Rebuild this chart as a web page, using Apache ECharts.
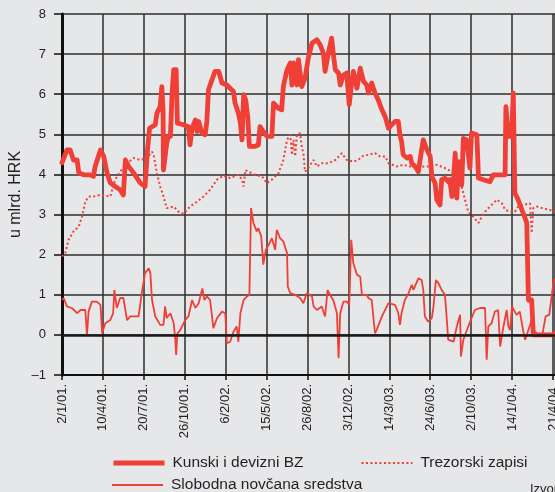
<!DOCTYPE html>
<html>
<head>
<meta charset="utf-8">
<script src="https://cdn.jsdelivr.net/npm/echarts@6/dist/echarts.min.js"></script>
<style>
html,body{margin:0;padding:0;background:#e6e7e9;}
#c{width:555px;height:492px;}
</style>
</head>
<body>
<div id="c"></div>
<script>
// x positions are in units of tick-label intervals (0 = 2/1/01., 12 = 21/4/04.)
var dateLabels = ['2/1/01.','10/4/01.','20/7/01.','26/10/01.','6/2/02.','15/5/02.','26/8/02.','3/12/02.','14/3/03.','24/6/03.','2/10/03.','14/1/04.','21/4/04.'];
var yTicks = [-1,0,1,2,3,4,5,6,7,8];

var kunski = [
[0.00,4.29],[0.12,4.61],[0.20,4.61],[0.28,4.36],[0.37,4.36],[0.41,4.04],[0.53,3.99],[0.69,3.99],[0.77,3.95],[0.81,4.20],
[0.94,4.61],[1.02,4.45],[1.10,4.04],[1.18,3.79],[1.30,3.70],[1.42,3.62],[1.50,3.49],[1.55,4.36],[1.63,4.20],[1.75,4.04],
[1.91,3.79],[2.03,3.70],[2.09,4.61],[2.14,5.15],[2.28,5.24],[2.32,5.53],[2.40,5.69],[2.44,6.19],[2.47,5.61],[2.48,4.11],
[2.52,4.11],[2.56,4.78],[2.60,4.95],[2.65,4.95],[2.69,6.03],[2.73,6.61],[2.79,6.61],[2.82,5.28],[2.97,5.24],[3.09,5.19],
[3.13,4.74],[3.18,5.15],[3.26,5.36],[3.30,5.07],[3.34,5.32],[3.42,5.03],[3.50,4.99],[3.54,5.32],[3.58,6.11],[3.62,6.15],
[3.74,6.57],[3.83,6.57],[3.91,6.28],[4.03,6.23],[4.11,6.15],[4.19,6.07],[4.23,5.78],[4.31,5.53],[4.36,5.28],[4.40,4.86],
[4.44,5.99],[4.49,5.86],[4.54,5.44],[4.58,4.70],[4.72,4.70],[4.80,4.74],[4.84,5.19],[4.92,5.07],[5.01,4.95],[5.13,4.95],
[5.17,5.78],[5.29,5.65],[5.37,5.61],[5.41,6.19],[5.50,6.61],[5.58,6.78],[5.62,6.23],[5.66,6.78],[5.74,6.23],[5.78,6.86],
[5.86,6.19],[5.94,6.40],[6.02,6.90],[6.11,7.27],[6.23,7.36],[6.31,7.23],[6.39,7.02],[6.43,6.57],[6.51,7.02],[6.59,7.40],
[6.63,7.02],[6.68,6.61],[6.76,6.53],[6.80,6.23],[6.88,6.48],[6.96,6.53],[7.02,5.74],[7.07,6.19],[7.12,6.57],[7.21,6.15],
[7.29,6.65],[7.33,6.48],[7.37,6.32],[7.45,6.23],[7.49,6.03],[7.57,6.28],[7.65,6.03],[7.73,5.86],[7.82,5.61],[7.90,5.44],
[7.98,5.15],[8.06,5.24],[8.14,5.32],[8.22,5.32],[8.26,4.99],[8.30,4.82],[8.34,4.49],[8.43,4.41],[8.51,4.45],[8.55,4.28],
[8.63,4.20],[8.71,4.07],[8.79,4.61],[8.83,4.86],[8.92,4.61],[9.00,4.45],[9.04,3.95],[9.12,3.78],[9.16,3.37],[9.24,3.24],
[9.28,3.87],[9.36,3.91],[9.44,3.82],[9.48,3.87],[9.53,3.45],[9.57,3.87],[9.61,4.53],[9.65,3.41],[9.69,4.32],[9.73,3.95],
[9.77,3.74],[9.81,4.90],[9.89,4.86],[9.97,4.16],[10.01,5.03],[10.14,4.99],[10.18,3.91],[10.30,3.87],[10.46,3.82],[10.54,3.99],
[10.83,3.99],[10.85,5.69],[10.91,4.95],[10.99,4.95],[11.03,6.03],[11.07,3.53],[11.15,3.37],[11.24,3.12],[11.32,2.91],[11.36,2.79],
[11.40,0.87],[11.48,0.87],[11.52,0.00],[12.01,0.00],[12.05,0.05]
];

var trezorski = [
[0.00,1.95],[0.08,2.04],[0.16,2.37],[0.28,2.58],[0.41,2.70],[0.49,2.95],[0.57,3.32],[0.65,3.45],[0.77,3.45],[0.94,3.49],
[1.18,3.45],[1.30,3.87],[1.42,4.07],[1.59,4.28],[1.75,4.41],[1.91,4.36],[2.08,4.41],[2.20,4.57],[2.24,4.49],[2.32,4.03],
[2.40,3.70],[2.48,3.45],[2.56,3.16],[2.73,3.20],[2.85,3.07],[2.97,3.02],[3.13,3.20],[3.30,3.32],[3.46,3.45],[3.62,3.62],
[3.79,3.87],[3.95,3.97],[4.11,3.91],[4.31,3.99],[4.40,3.87],[4.44,3.70],[4.48,4.11],[4.56,4.07],[4.72,3.99],[4.89,3.95],
[5.01,3.78],[5.13,3.87],[5.29,4.03],[5.41,4.36],[5.50,4.86],[5.58,4.99],[5.62,4.49],[5.66,4.86],[5.70,4.45],[5.74,4.99],
[5.82,5.03],[5.86,4.70],[5.90,4.53],[5.94,4.07],[6.02,4.16],[6.15,4.36],[6.23,4.20],[6.35,4.28],[6.51,4.28],[6.68,4.36],
[6.84,4.53],[6.96,4.36],[7.12,4.32],[7.24,4.36],[7.33,4.45],[7.49,4.49],[7.65,4.53],[7.77,4.45],[7.90,4.45],[7.98,4.28],
[8.18,4.20],[8.34,4.24],[8.51,4.20],[8.67,4.16],[8.83,4.20],[9.00,4.20],[9.16,4.24],[9.36,4.16],[9.53,4.07],[9.69,3.87],
[9.77,3.70],[9.85,3.37],[9.93,3.07],[10.05,2.95],[10.18,2.79],[10.26,2.95],[10.34,3.07],[10.46,3.20],[10.63,3.37],[10.75,3.28],
[10.83,3.12],[10.95,3.07],[11.07,3.07],[11.15,3.20],[11.28,3.24],[11.44,3.28],[11.48,2.54],[11.52,3.16],[11.60,3.20],[11.74,3.16],
[11.91,3.12],[12.05,3.07]
];

var slobodna = [
[0.00,0.87],[0.04,0.92],[0.12,0.71],[0.24,0.67],[0.37,0.54],[0.45,0.62],[0.57,0.62],[0.61,0.00],[0.65,0.58],[0.73,0.83],
[0.85,0.83],[0.94,0.75],[0.98,0.04],[1.06,0.29],[1.18,0.37],[1.25,0.54],[1.28,1.12],[1.34,0.67],[1.42,0.92],[1.50,0.92],
[1.59,0.37],[1.67,0.46],[1.87,0.46],[1.90,0.67],[1.95,1.04],[2.03,1.54],[2.12,1.66],[2.16,1.54],[2.20,0.87],[2.28,0.46],
[2.40,0.25],[2.48,0.25],[2.52,0.71],[2.56,0.42],[2.65,0.54],[2.73,0.29],[2.77,-0.12],[2.79,-0.50],[2.82,0.04],[2.89,0.12],
[3.01,0.37],[3.09,0.46],[3.18,0.87],[3.26,0.67],[3.34,0.79],[3.38,0.79],[3.43,1.16],[3.48,0.87],[3.54,0.96],[3.62,0.87],
[3.70,0.17],[3.79,0.42],[3.91,0.58],[3.99,0.54],[4.03,-0.21],[4.11,-0.17],[4.19,0.08],[4.27,0.21],[4.31,-0.17],[4.36,0.54],
[4.44,0.87],[4.52,0.96],[4.58,1.00],[4.60,2.04],[4.62,3.16],[4.68,2.79],[4.76,2.58],[4.80,2.66],[4.87,2.45],[4.92,1.75],
[4.98,2.12],[5.05,2.24],[5.13,2.41],[5.21,2.12],[5.25,2.62],[5.33,2.41],[5.41,2.33],[5.50,2.04],[5.52,1.20],[5.58,1.04],
[5.70,1.00],[5.82,0.92],[5.90,0.79],[5.98,1.04],[6.11,0.96],[6.15,0.71],[6.23,0.62],[6.35,0.71],[6.43,0.46],[6.49,1.12],
[6.55,1.00],[6.63,0.87],[6.72,0.54],[6.76,-0.58],[6.80,0.54],[6.88,0.83],[6.96,0.83],[7.02,0.75],[7.07,2.37],[7.12,1.79],
[7.21,1.50],[7.29,1.45],[7.33,1.00],[7.45,1.00],[7.49,0.92],[7.57,0.87],[7.65,0.04],[7.69,0.12],[7.82,0.46],[7.98,0.79],
[8.14,0.75],[8.22,0.54],[8.26,0.25],[8.30,0.54],[8.38,0.87],[8.47,1.04],[8.55,1.25],[8.59,1.12],[8.71,1.41],[8.79,1.37],
[8.83,1.12],[8.87,0.46],[8.95,0.33],[9.04,0.42],[9.08,0.71],[9.14,1.37],[9.20,1.29],[9.28,1.12],[9.36,1.00],[9.40,0.46],
[9.44,-0.12],[9.57,-0.17],[9.65,0.21],[9.73,0.50],[9.75,-0.54],[9.81,-0.12],[9.93,0.21],[10.01,0.42],[10.09,0.62],[10.22,0.67],
[10.34,0.67],[10.38,-0.62],[10.42,0.21],[10.50,0.29],[10.58,0.58],[10.66,0.62],[10.71,-0.29],[10.79,0.21],[10.87,0.62],[10.91,0.21],
[10.95,0.12],[11.00,0.71],[11.04,0.71],[11.11,0.50],[11.19,0.58],[11.27,0.12],[11.32,-0.12],[11.40,0.12],[11.48,0.37],[11.52,0.12],
[11.60,0.04],[11.74,0.00],[11.82,0.46],[11.91,0.50],[12.01,1.29],[12.05,1.41]
];

var seriesNames = ['Kunski i devizni BZ','Trezorski zapisi','Slobodna novčana sredstva'];
var RED = '#ef3f36';
var INK = '#231f20';
var GRIDC = '#2e2e2e';

var chart = echarts.init(document.getElementById('c'), null, {renderer:'canvas'});
chart.setOption({
  backgroundColor: '#e6e7e9',
  animation: false,
  textStyle: {fontFamily: 'Liberation Sans, Arial, sans-serif'},
  grid: {left: 62, right: 0, top: 14, bottom: 117, containLabel: false, outerBoundsMode: 'none'},
  xAxis: {
    type: 'value', min: 0, max: 12.05, interval: 1,
    axisLine: {show: true, onZero: false, lineStyle: {color: '#111', width: 2}},
    axisTick: {show: true, length: 5, lineStyle: {color: '#111', width: 1.5}},
    axisLabel: {
      rotate: 90, margin: 9, fontSize: 13, color: INK,
      showMaxLabel: false, hideOverlap: false,
      formatter: function (v) { return Number.isInteger(v) && dateLabels[v] ? dateLabels[v] : ''; }
    },
    splitLine: {show: true, lineStyle: {color: GRIDC, width: 1.5}}
  },
  yAxis: {
    type: 'value', min: yTicks[0], max: yTicks[yTicks.length-1], interval: 1,
    name: 'u mlrd. HRK', nameLocation: 'middle', nameGap: 38, nameRotate: 90,
    nameMoveOverlap: false,
    nameTextStyle: {fontSize: 16, color: INK},
    axisLine: {show: true, lineStyle: {color: '#111', width: 3}},
    axisTick: {show: true, length: 8, lineStyle: {color: '#111', width: 1.5}},
    axisLabel: {
      margin: 16, fontSize: 13, color: INK,
      formatter: function (v) { return v < 0 ? '\u2013' + Math.abs(v) : String(v); }
    },
    splitLine: {show: true, lineStyle: {color: GRIDC, width: 1.5}}
  },
  legend: [
    {
      data: [
        {name: seriesNames[0], lineStyle: {width: 5, cap: 'butt'}},
        {name: seriesNames[1], lineStyle: {width: 2}}
      ],
      left: 106, top: 450, itemWidth: 51, itemHeight: 14, itemGap: 57,
      itemStyle: {opacity: 0},
      textStyle: {fontSize: 15.5, color: INK, padding: [0,0,0,3]},
      selectedMode: false
    },
    {
      data: [{name: seriesNames[2], lineStyle: {width: 2}}],
      left: 106, top: 472, itemWidth: 51, itemHeight: 14,
      itemStyle: {opacity: 0},
      textStyle: {fontSize: 15.5, color: INK, padding: [0,0,0,3]},
      selectedMode: false
    }
  ],
  graphic: [{
    type: 'text', left: 530, top: 483,
    style: {text: 'Izvor: HNB', fontSize: 13, fill: INK, fontFamily: 'Liberation Sans, Arial, sans-serif'}
  }],
  series: [
    {
      name: 'zero', type: 'line', data: [], z: 1, silent: true,
      markLine: {silent: true, symbol: 'none', label: {show: false},
        lineStyle: {color: '#1a1a1a', width: 2.5, type: 'solid'}, data: [{yAxis: 0}]}
    },
    {
      name: seriesNames[1], type: 'line', data: trezorski, symbol: 'none', z: 2,
      lineStyle: {color: RED, width: 2, type: [2, 2.5]}, itemStyle: {color: RED}
    },
    {
      name: seriesNames[2], type: 'line', data: slobodna, symbol: 'none', z: 3,
      lineStyle: {color: RED, width: 1.8}, itemStyle: {color: RED}
    },
    {
      name: seriesNames[0], type: 'line', data: kunski, symbol: 'none', z: 4,
      lineStyle: {color: RED, width: 4.8, join: 'round', cap: 'round'}, itemStyle: {color: RED}
    }
  ]
});
</script>
</body>
</html>
